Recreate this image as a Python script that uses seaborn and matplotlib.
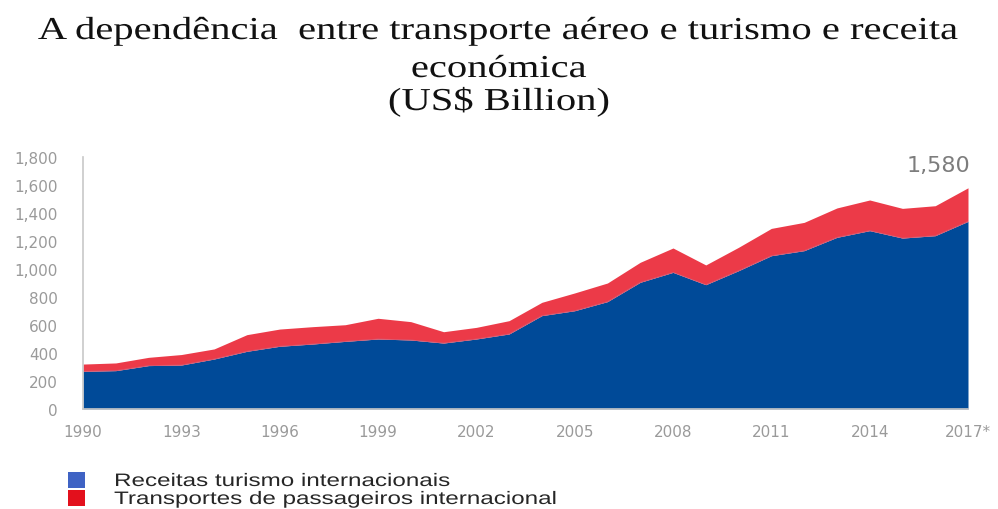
import matplotlib
matplotlib.use("Agg")
import matplotlib.pyplot as plt
from matplotlib.patches import Patch
from matplotlib.patheffects import AbstractPathEffect
from matplotlib.transforms import Affine2D
import seaborn as sns
import pandas as pd

# International tourism receipts and international passenger transport (US$ billion)
years = list(range(1990, 2018))
tourism_receipts = [269, 274, 310, 314, 357, 412, 448, 464, 483, 500,
                    493, 471, 500, 536, 667, 702, 767, 905, 976, 888,
                    988, 1095, 1131, 1226, 1274, 1221, 1238, 1340]
passenger_transport = [52, 55, 59, 75, 72, 119, 123, 124, 119, 148,
                       131, 81, 83, 95, 95, 127, 133, 143, 174, 141,
                       167, 195, 202, 210, 219, 212, 214, 240]
tick_years = [1990, 1993, 1996, 1999, 2002, 2005, 2008, 2011, 2014, 2017]
tick_labels = ["1990", "1993", "1996", "1999", "2002", "2005", "2008", "2011", "2014", "2017*"]
y_ticks = [0, 200, 400, 600, 800, 1000, 1200, 1400, 1600, 1800]
series_names = ["Receitas turismo internacionais", "Transportes de passageiros internacional"]
title_lines = ["A dependência  entre transporte aéreo e turismo e receita",
               "económica",
               "(US$ Billion)"]
total_label = "1,580"

df = pd.DataFrame({"year": years,
                   "tourism": tourism_receipts,
                   "transport": passenger_transport})
df["total"] = df["tourism"] + df["transport"]


class StretchX(AbstractPathEffect):
    """Widen glyphs horizontally about a fixed x (pixels) or the text origin."""

    def __init__(self, sx, cx=None):
        super().__init__()
        self.sx = sx
        self.cx = cx

    def draw_path(self, renderer, gc, tpath, affine, rgbFace=None):
        cx = self.cx if self.cx is not None else affine.get_matrix()[0, 2]
        stretched = affine + Affine2D().translate(-cx, 0).scale(self.sx, 1).translate(cx, 0)
        renderer.draw_path(gc, tpath, stretched, rgbFace)


sns.set_theme(style="white")
plt.rcParams["font.family"] = ["DejaVu Sans"]

BLUE = "#004a98"
RED = "#ec3a48"
GREY = "#9a9a9a"

W, H = 998, 510
fig = plt.figure(figsize=(W / 100, H / 100), dpi=100)
ax = fig.add_axes([83 / W, 1 - 410 / H, 885 / W, 252 / H])

ax.stackplot(df["year"], df["tourism"], df["transport"],
             colors=[BLUE, RED], linewidth=0)
sns.lineplot(data=df, x="year", y="tourism", ax=ax, color="#c86a8a",
             linewidth=0.6, alpha=0.6)

ax.set_xlim(1990, 2017)
ax.set_ylim(0, 1800)
ax.set_xlabel("")
ax.set_ylabel("")

ax.set_xticks(years, minor=True)
ax.set_xticks(tick_years)
ax.set_xticklabels(tick_labels)
ax.set_yticks(y_ticks)
ax.set_yticklabels([f"{v:,}" for v in y_ticks])

for side in ["top", "right"]:
    ax.spines[side].set_visible(False)
for side in ["left", "bottom"]:
    ax.spines[side].set_color("#c8c8c8")
    ax.spines[side].set_linewidth(1.2)

ax.tick_params(axis="x", which="both", direction="out", length=4, width=0.8,
               color="#c8c8c8", labelsize=11, labelcolor=GREY, pad=7)
ax.tick_params(axis="y", which="major", direction="out", length=4, width=0.8,
               color="#c8c8c8", labelsize=11, labelcolor=GREY, pad=14)
ax.grid(False)

# Total value callout for the last year
ax.annotate(total_label, xy=(df["year"].iloc[-1], df["total"].iloc[-1]),
            xytext=(2, 9), textcoords="offset points", ha="right", va="bottom",
            fontsize=16, color="#7d7d7d")

# Title, one line at a time, widened about the figure centre
for line, base in zip(title_lines, [40, 78, 111]):
    fig.text(0.5, 1 - base / H, line, ha="center", va="baseline", fontsize=23,
             family="Liberation Serif", color="#111111",
             path_effects=[StretchX(1.27, cx=W / 2)])

handles = [Patch(facecolor="#3f63c4", edgecolor="none"),
           Patch(facecolor="#e3101c", edgecolor="none")]
leg = fig.legend(handles, series_names, loc="lower left",
                 bbox_to_anchor=(68 / W, 1 / H),
                 frameon=False, prop={"family": "Liberation Sans", "size": 13},
                 handlelength=0.95, handleheight=0.95, handletextpad=1.6,
                 labelspacing=0.0, borderaxespad=0, borderpad=0)
for t in leg.get_texts():
    t.set_path_effects([StretchX(1.34)])

fig.savefig("out.png", dpi=100)
